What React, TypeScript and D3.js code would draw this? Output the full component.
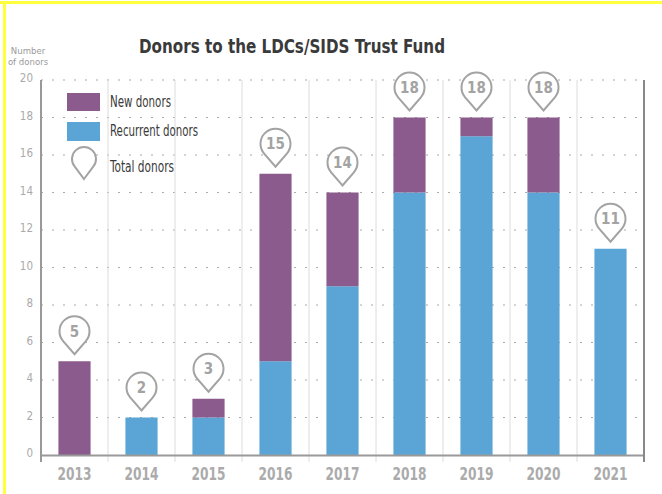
import React from "react";
import * as d3 from "d3";

const years = ["2013", "2014", "2015", "2016", "2017", "2018", "2019", "2020", "2021"];
const recurrentDonors = [0, 2, 2, 5, 9, 14, 17, 14, 11];
const newDonors = [5, 0, 1, 10, 5, 4, 1, 4, 0];
const yTicks = [0, 2, 4, 6, 8, 10, 12, 14, 16, 18, 20];

const W = 662;
const H = 494;
const left = 41;
const right = 644;
const top = 80;
const bottom = 455;
const PURPLE = "#8a5b8c";
const BLUE = "#5aa5d5";
const FONT = "'DejaVu Sans Condensed', 'Liberation Sans Narrow', 'Roboto', sans-serif";

function pinPath(cx: number, tipY: number, r: number, d: number) {
  const cy = tipY - d;
  const phi = Math.acos(r / d);
  const rx = cx + r * Math.sin(phi);
  const lx = cx - r * Math.sin(phi);
  const py = cy + r * Math.cos(phi);
  return `M${cx},${tipY} L${rx},${py} A${r},${r} 0 1 0 ${lx},${py} Z`;
}

export default function App() {
  const x = d3.scaleBand<string>().domain(years).range([left, right]).paddingInner(0.52).paddingOuter(0.26);
  const y = d3.scaleLinear().domain([0, 20]).range([bottom, top]);
  const step = x.step();
  const bw = x.bandwidth();
  const totals = years.map((_, i) => recurrentDonors[i] + newDonors[i]);
  const fs = { fontStretch: "condensed" as const };

  return (
    <svg width={W} height={H} style={{ position: "absolute", left: 0, top: 0, background: "#fff" }}>
      <rect x={0} y={0} width={W} height={H} fill="#fff" />
      {/* yellow frame */}
      <line x1={0} x2={W} y1={2.5} y2={2.5} stroke="#ffff3c" strokeWidth={3} />
      <line x1={4.5} x2={4.5} y1={1} y2={H} stroke="#ffff3c" strokeWidth={3} />

      {/* title */}
      <text x={292} y={53} textAnchor="middle" fontFamily={FONT} fontWeight="bold" fontSize={20} fill="#3a3a3a" textLength={306} lengthAdjust="spacingAndGlyphs" style={fs}>
        Donors to the LDCs/SIDS Trust Fund
      </text>

      {/* y label */}
      <text x={28} y={54} textAnchor="middle" fontFamily={FONT} fontSize={9.5} fill="#9a9a9a" style={fs}>Number</text>
      <text x={28} y={65} textAnchor="middle" fontFamily={FONT} fontSize={9.5} fill="#9a9a9a" style={fs}>of donors</text>

      {/* horizontal dotted grid */}
      {yTicks.filter((t) => t > 0).map((t) => (
        <line key={"g" + t} x1={left} x2={right} y1={y(t)} y2={y(t)} stroke="#aaa" strokeWidth={1.2} strokeDasharray="2,9" />
      ))}
      {/* vertical band separators */}
      {years.slice(1).map((yr) => (
        <line key={"v" + yr} x1={(x(yr) as number) - (step - bw) / 2} x2={(x(yr) as number) - (step - bw) / 2} y1={top} y2={462} stroke="#dcdcdc" strokeWidth={1} />
      ))}

      {/* y tick labels */}
      {yTicks.map((t) => (
        <text key={"t" + t} x={33} y={y(t) + 2} textAnchor="end" fontFamily={FONT} fontSize={11.5} fill="#aaa" style={fs}>{t}</text>
      ))}

      {/* bars */}
      {years.map((yr, i) => (
        <g key={"b" + yr}>
          {recurrentDonors[i] > 0 && (
            <rect x={x(yr)} y={y(recurrentDonors[i])} width={bw} height={y(0) - y(recurrentDonors[i])} fill={BLUE} />
          )}
          {newDonors[i] > 0 && (
            <rect x={x(yr)} y={y(totals[i])} width={bw} height={y(recurrentDonors[i]) - y(totals[i])} fill={PURPLE} />
          )}
        </g>
      ))}

      {/* axes */}
      <line x1={left} x2={right} y1={bottom + 0.5} y2={bottom + 0.5} stroke="#999" strokeWidth={2} />
      <line x1={left} x2={left} y1={top} y2={462} stroke="#999" strokeWidth={2} />
      <line x1={right} x2={right} y1={top} y2={462} stroke="#888" strokeWidth={2} />

      {/* x labels */}
      {years.map((yr) => (
        <text key={"x" + yr} x={(x(yr) as number) + bw / 2} y={480} textAnchor="middle" fontFamily={FONT} fontWeight="bold" fontSize={18} fill="#ababab" style={fs} textLength={34} lengthAdjust="spacingAndGlyphs">{yr}</text>
      ))}

      {/* total pins */}
      {years.map((yr, i) => {
        const cx = (x(yr) as number) + bw / 2;
        const tip = y(totals[i]) - 7;
        return (
          <g key={"p" + yr}>
            <path d={pinPath(cx, tip, 15, 23)} fill="#fff" stroke="#a3a3a3" strokeWidth={2} />
            <text x={cx} y={tip - 23 + 5.5} textAnchor="middle" fontFamily={FONT} fontWeight="bold" fontSize={15} fill="#a3a3a3" style={fs}>{totals[i]}</text>
          </g>
        );
      })}

      {/* legend */}
      <rect x={67} y={93} width={33} height={18} fill={PURPLE} />
      <text x={110} y={107} fontFamily={FONT} fontSize={15} fill="#3a3a3a" style={fs} textLength={61} lengthAdjust="spacingAndGlyphs">New donors</text>
      <rect x={67} y={122} width={33} height={19} fill={BLUE} />
      <text x={110} y={136} fontFamily={FONT} fontSize={15} fill="#3a3a3a" style={fs} textLength={88} lengthAdjust="spacingAndGlyphs">Recurrent donors</text>
      <path d={pinPath(84, 179, 12, 20)} fill="#fff" stroke="#a3a3a3" strokeWidth={2} />
      <text x={110} y={172} fontFamily={FONT} fontSize={15} fill="#3a3a3a" style={fs} textLength={64} lengthAdjust="spacingAndGlyphs">Total donors</text>
    </svg>
  );
}
